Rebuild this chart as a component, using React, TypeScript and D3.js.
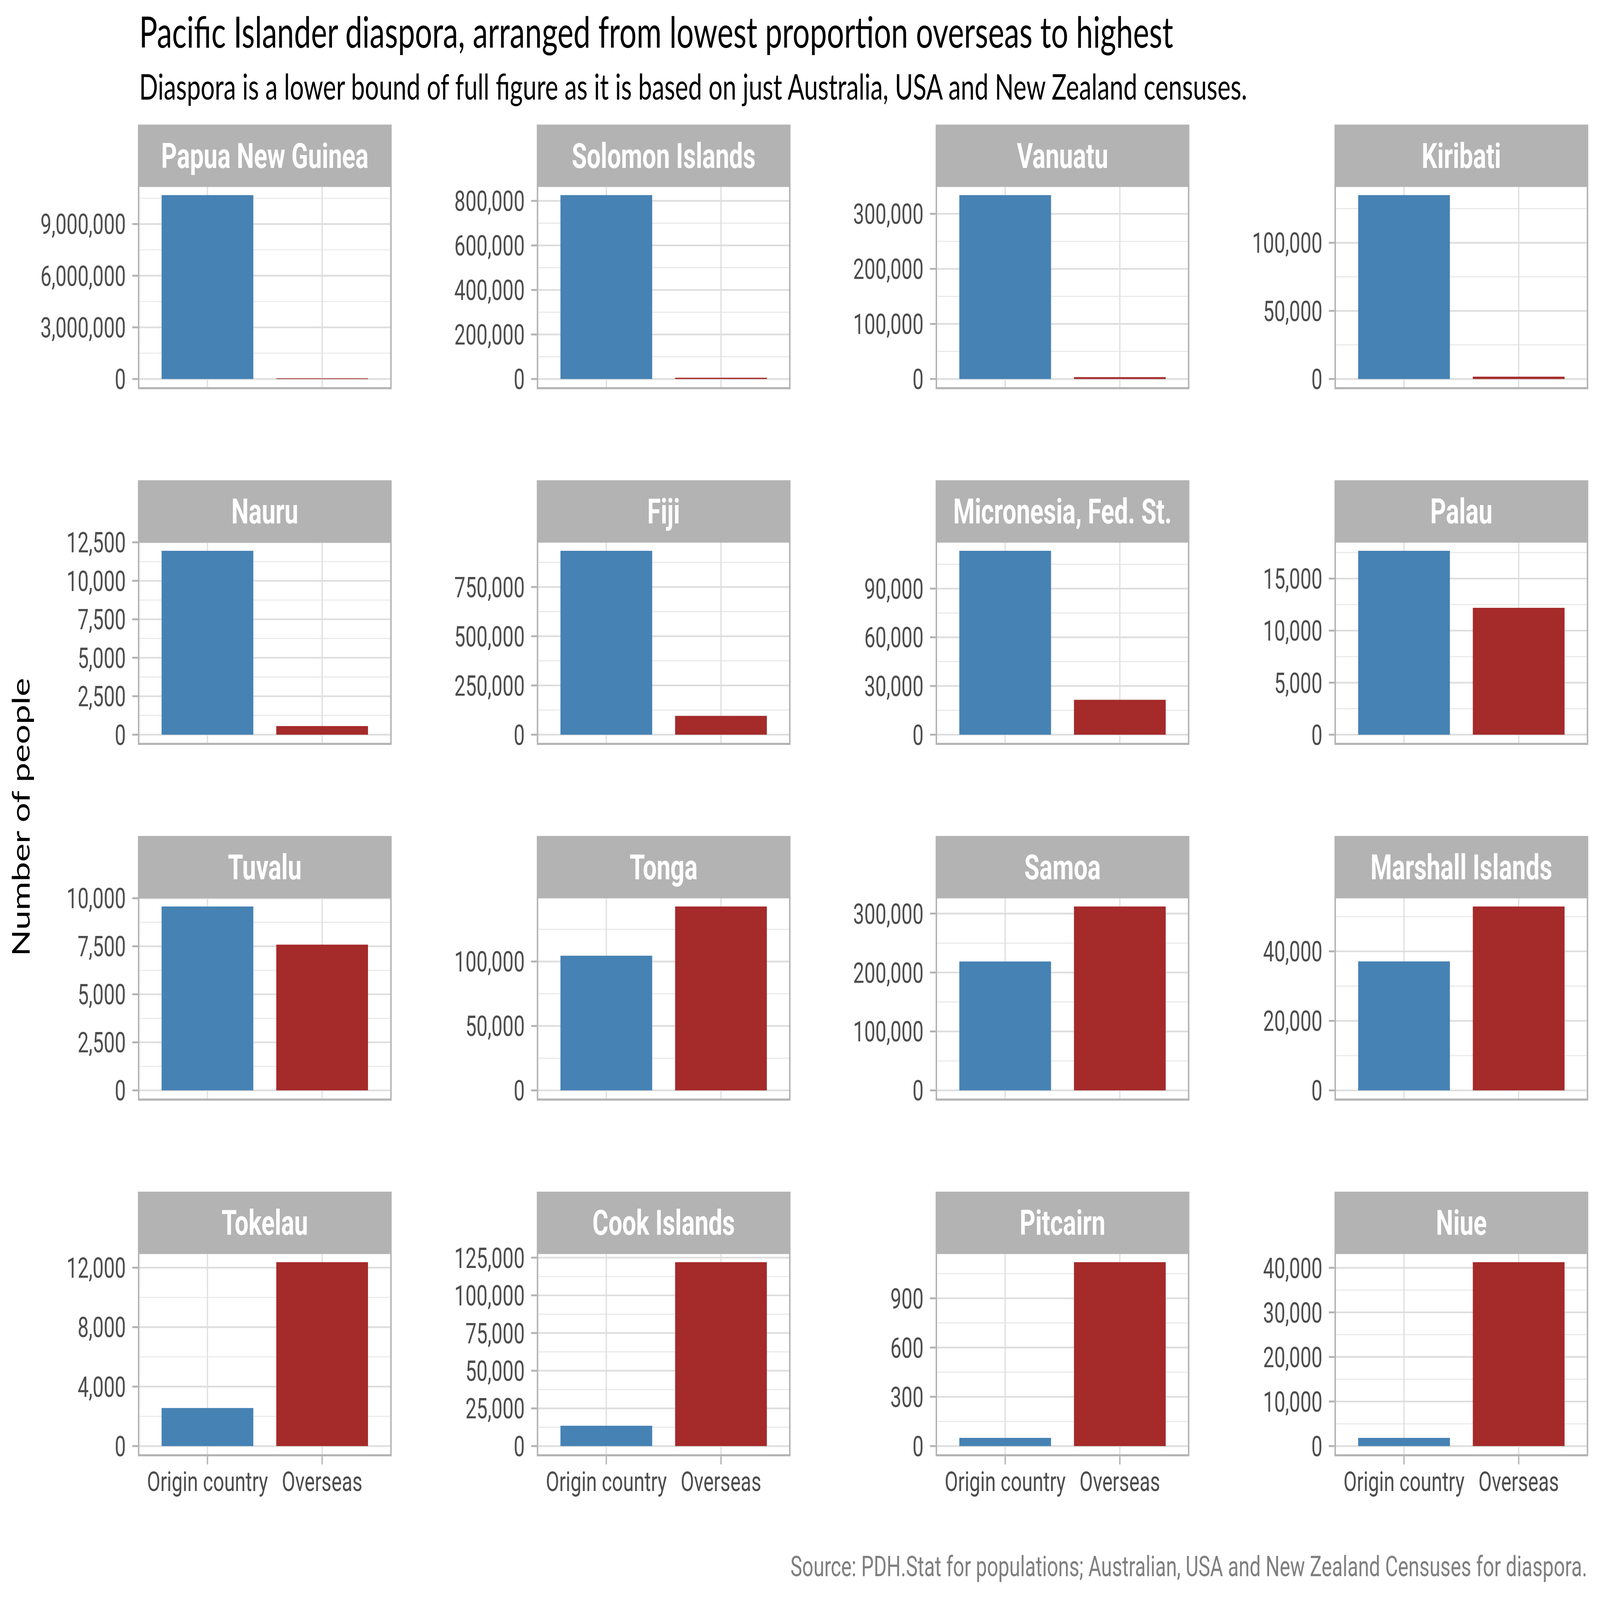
import React, { useEffect } from "react";
import * as d3 from "d3";

// facet order: lowest share overseas -> highest
const countries = [
  "Papua New Guinea", "Solomon Islands", "Vanuatu", "Kiribati",
  "Nauru", "Fiji", "Micronesia, Fed. St.", "Palau",
  "Tuvalu", "Tonga", "Samoa", "Marshall Islands",
  "Tokelau", "Cook Islands", "Pitcairn", "Niue",
];
const originCounts = [
  10680000, 826000, 334000, 135000,
  11950, 934000, 113300, 17670,
  9570, 104500, 218700, 37100,
  2560, 13500, 50, 1840,
];
const overseasCounts = [
  40000, 5700, 3400, 1700,
  560, 95600, 21500, 12190,
  7585, 142700, 312000, 52900,
  12370, 122000, 1120, 41260,
];
const tickSteps = [
  3000000, 200000, 100000, 50000,
  2500, 250000, 30000, 5000,
  2500, 50000, 100000, 20000,
  4000, 25000, 300, 10000,
];
const categories = ["Origin country", "Overseas"];
const barColors = ["#4682B4", "#A52A2A"];

// layout in reference pixels (6000 x 4200), scaled to the window by the viewBox
const W = 6000;
const H = 4200;
const PANEL_LEFT0 = 520;
const COL_STEP = 1495.7;
const ROW_TOP0 = 327;
const ROW_STEP = 933.7;
const STRIP_H = 161;
const PANEL_H = 531;
const PANEL_W = 946;

const fmt = d3.format(",");
const tickFont = "Roboto, 'Liberation Sans', sans-serif";
const titleFont = "Lato, 'Open Sans', sans-serif";

function Panel({ idx }: { idx: number }) {
  const col = idx % 4;
  const row = Math.floor(idx / 4);
  const left = PANEL_LEFT0 + col * COL_STEP;
  const stripTop = ROW_TOP0 + row * ROW_STEP;
  const top = stripTop + STRIP_H;
  const bottom = top + PANEL_H;
  const right = left + PANEL_W;

  const values = [originCounts[idx], overseasCounts[idx]];
  const maxV = d3.max(values) as number;
  const step = tickSteps[idx];

  // ggplot-style 5% expansion on both ends
  const y = d3
    .scaleLinear()
    .domain([-0.05 * maxV, 1.05 * maxV])
    .range([bottom, top]);
  const x = d3
    .scaleBand<string>()
    .domain(categories)
    .range([left, right])
    .paddingInner(0.2)
    .paddingOuter(0.2);

  const [lo, hi] = y.domain();
  const majors = d3.range(0, hi + 1e-9, step).filter((v) => v >= lo);
  const minors: number[] = [];
  for (let i = -1; i < majors.length + 1; i++) {
    const m = i * step + step / 2;
    if (m >= lo && m <= hi) minors.push(m);
  }
  const showX = row === 3;

  return (
    <g>
      <rect x={left} y={top} width={PANEL_W} height={PANEL_H} fill="#fff" />
      {minors.map((m) => (
        <line key={"mi" + m} x1={left} x2={right} y1={y(m)} y2={y(m)} stroke="#E6E6E6" strokeWidth={2.5} />
      ))}
      {majors.map((m) => (
        <line key={"ma" + m} x1={left} x2={right} y1={y(m)} y2={y(m)} stroke="#DEDEDE" strokeWidth={4.5} />
      ))}
      {categories.map((c) => {
        const cx = (x(c) as number) + x.bandwidth() / 2;
        return <line key={"v" + c} x1={cx} x2={cx} y1={top} y2={bottom} stroke="#DEDEDE" strokeWidth={4.5} />;
      })}
      {categories.map((c, i) => (
        <rect
          key={"b" + c}
          x={x(c)}
          y={y(values[i])}
          width={x.bandwidth()}
          height={y(0) - y(values[i])}
          fill={barColors[i]}
        />
      ))}
      <rect x={left} y={top} width={PANEL_W} height={PANEL_H} fill="none" stroke="#B3B3B3" strokeWidth={5.5} />
      <rect x={left - 2.75} y={stripTop} width={PANEL_W + 5.5} height={STRIP_H} fill="#B3B3B3" />
      <text
        x={(left + right) / 2}
        y={stripTop + STRIP_H / 2}
        dy="0.36em"
        textAnchor="middle"
        fill="#fff"
        fontFamily={tickFont}
        fontWeight={700}
        fontSize={92}
      >
        {countries[idx]}
      </text>
      {majors.map((m) => (
        <g key={"t" + m}>
          <line x1={left - 24} x2={left - 2.75} y1={y(m)} y2={y(m)} stroke="#B3B3B3" strokeWidth={5} />
          <text
            x={left - 48}
            y={y(m)}
            dy="0.36em"
            textAnchor="end"
            fill="#4D4D4D"
            fontFamily={tickFont}
            fontSize={74}
          >
            {fmt(m)}
          </text>
        </g>
      ))}
      {showX &&
        categories.map((c) => {
          const cx = (x(c) as number) + x.bandwidth() / 2;
          return (
            <g key={"x" + c}>
              <line x1={cx} x2={cx} y1={bottom + 2.75} y2={bottom + 24} stroke="#B3B3B3" strokeWidth={5} />
              <text
                x={cx}
                y={bottom + 94}
                textAnchor="middle"
                fill="#4D4D4D"
                fontFamily={tickFont}
                fontSize={73}
              >
                {c}
              </text>
            </g>
          );
        })}
    </g>
  );
}

export default function App() {
  useEffect(() => {
    document.body.style.margin = "0";
  }, []);

  return (
    <div style={{ width: "100vw", height: "100vh", background: "#fff", overflow: "hidden" }}>
      <svg
        width="100%"
        height="100%"
        viewBox={`0 0 ${W} ${H}`}
        preserveAspectRatio="none"
        style={{ display: "block" }}
      >
        <rect width={W} height={H} fill="#fff" />
        <text x={522} y={125} fontFamily={titleFont} fontSize={114} fill="#000">
          Pacific Islander diaspora, arranged from lowest proportion overseas to highest
        </text>
        <text x={522} y={261} fontFamily={titleFont} fontSize={93} fill="#000">
          Diaspora is a lower bound of full figure as it is based on just Australia, USA and New Zealand censuses.
        </text>
        <text
          transform="translate(112, 2145) rotate(-90)"
          textAnchor="middle"
          fontFamily={titleFont}
          fontSize={92}
          fill="#000"
        >
          Number of people
        </text>
        {countries.map((c, i) => (
          <Panel key={c} idx={i} />
        ))}
        <text
          x={5952}
          y={4137}
          textAnchor="end"
          fontFamily={tickFont}
          fontSize={74}
          fill="#7F7F7F"
        >
          Source: PDH.Stat for populations; Australian, USA and New Zealand Censuses for diaspora.
        </text>
      </svg>
    </div>
  );
}
